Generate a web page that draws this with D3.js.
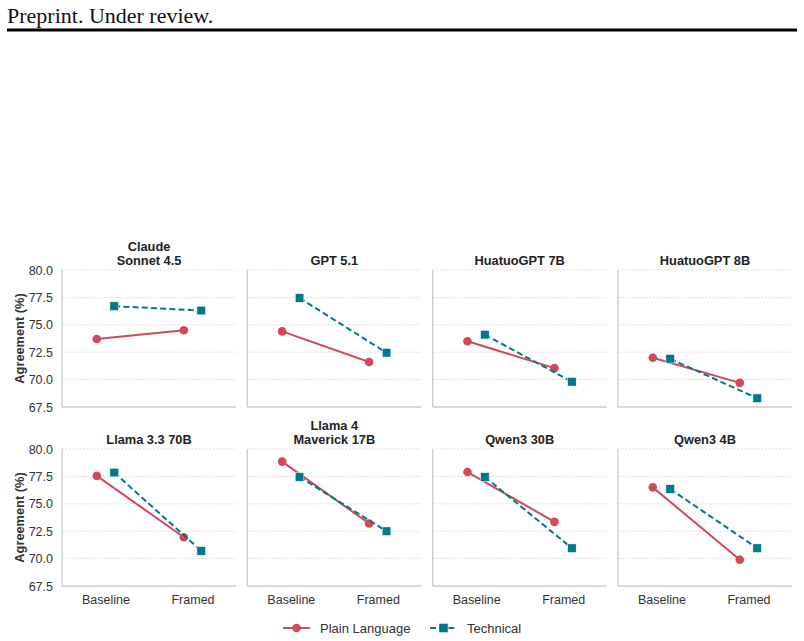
<!DOCTYPE html>
<html>
<head>
<meta charset="utf-8">
<script src="https://cdn.jsdelivr.net/npm/d3@7"></script>
<style>
  body { margin: 0; background: #fff; }
  svg { display: block; }
</style>
</head>
<body>
<div id="chart"></div>
<script>
// data
var models = [["Claude", "Sonnet 4.5"], ["GPT 5.1"], ["HuatuoGPT 7B"], ["HuatuoGPT 8B"],
              ["Llama 3.3 70B"], ["Llama 4", "Maverick 17B"], ["Qwen3 30B"], ["Qwen3 4B"]];
var conditions = ["Baseline", "Framed"];
var plainBaseline = [73.7, 74.4, 73.5, 72.0, 77.55, 78.85, 77.9, 76.5];
var plainFramed   = [74.5, 71.6, 71.05, 69.7, 71.95, 73.2, 73.35, 69.9];
var techBaseline  = [76.7, 77.45, 74.1, 71.9, 77.85, 77.45, 77.45, 76.35];
var techFramed    = [76.3, 72.45, 69.8, 68.3, 70.7, 72.5, 70.95, 70.95];
var yTicks = [67.5, 70.0, 72.5, 75.0, 77.5, 80.0];
var seriesNames = ["Plain Language", "Technical"];

var width = 804, height = 641;
var red = "#d1495b", teal = "#00798c";
var font = "'Liberation Sans', Arial, sans-serif";

var svg = d3.select("#chart").append("svg")
  .attr("width", width)
  .attr("height", height);

// page header
svg.append("text")
  .attr("x", 7)
  .attr("y", 23)
  .attr("font-family", "'Liberation Serif', 'DejaVu Serif', serif")
  .attr("font-size", "22px")
  .attr("fill", "#111")
  .text("Preprint. Under review.");
svg.append("line")
  .attr("x1", 7).attr("x2", 797)
  .attr("y1", 30).attr("y2", 30)
  .attr("stroke", "#000")
  .attr("stroke-width", 3);

var left = 62, right = 792, gap = 11.3;
var pw = (right - left - 3 * gap) / 4;   // panel width
var ph = 137;                           // panel height
var rowTops = [270, 449];

var x = d3.scaleLinear().domain([-0.5, 1.5]).range([0, pw]);
var y = d3.scaleLinear().domain([67.5, 80]).range([ph, 0]);
var dodge = 0.1;

var series = [
  { name: seriesNames[0], color: red, dash: null, shape: "circle", off: -dodge,
    vals: function(i) { return [plainBaseline[i], plainFramed[i]]; } },
  { name: seriesNames[1], color: teal, dash: "6,3.2", shape: "square", off: dodge,
    vals: function(i) { return [techBaseline[i], techFramed[i]]; } }
];

models.forEach(function(title, i) {
  var col = i % 4, row = Math.floor(i / 4);
  var g = svg.append("g")
    .attr("transform", "translate(" + (left + col * (pw + gap)) + "," + rowTops[row] + ")");

  // grid
  g.selectAll("line.grid")
    .data(yTicks.slice(1))
    .enter()
    .append("line")
    .attr("class", "grid")
    .attr("x1", 0).attr("x2", pw)
    .attr("y1", function(d) { return y(d); })
    .attr("y2", function(d) { return y(d); })
    .attr("stroke", "#d4d4d4")
    .attr("stroke-width", 0.8)
    .attr("stroke-dasharray", "2,1.5");

  // spines
  g.append("line")
    .attr("x1", 0).attr("x2", 0).attr("y1", 0).attr("y2", ph)
    .attr("stroke", "#cccccc").attr("stroke-width", 1.3);
  g.append("line")
    .attr("x1", 0).attr("x2", pw).attr("y1", ph).attr("y2", ph)
    .attr("stroke", "#cccccc").attr("stroke-width", 1.3);

  // y axis on first column
  if (col === 0) {
    var yAxis = d3.axisLeft(y).tickValues(yTicks).tickFormat(d3.format(".1f")).tickSize(0).tickPadding(9);
    var ya = g.append("g").call(yAxis);
    ya.select(".domain").remove();
    ya.selectAll("text")
      .attr("font-family", font)
      .attr("font-size", "12.5px")
      .attr("fill", "#333");
    g.append("text")
      .attr("transform", "translate(" + (-38.5) + "," + (ph / 2) + ") rotate(-90)")
      .attr("text-anchor", "middle")
      .attr("font-family", font)
      .attr("font-weight", "bold")
      .attr("font-size", "12.8px")
      .attr("fill", "#333")
      .text("Agreement (%)");
  }

  // x axis on bottom row
  if (row === 1) {
    var xAxis = d3.axisBottom(x).tickValues([0, 1])
      .tickFormat(function(d) { return conditions[d]; }).tickSize(0).tickPadding(9);
    var xa = g.append("g").attr("transform", "translate(0," + ph + ")").call(xAxis);
    xa.select(".domain").remove();
    xa.selectAll("text")
      .attr("font-family", font)
      .attr("font-size", "12.5px")
      .attr("fill", "#333");
  }

  // title
  var t = g.append("text")
    .attr("x", pw / 2)
    .attr("text-anchor", "middle")
    .attr("font-family", font)
    .attr("font-weight", "bold")
    .attr("font-size", "12.8px")
    .attr("fill", "#222");
  title.forEach(function(line, k) {
    t.append("tspan")
      .attr("x", pw / 2)
      .attr("y", -5 - (title.length - 1 - k) * 14.5)
      .text(line);
  });

  // series
  series.forEach(function(s) {
    var pts = s.vals(i).map(function(v, k) { return [x(k + s.off), y(v)]; });
    g.append("path")
      .attr("d", d3.line()(pts))
      .attr("fill", "none")
      .attr("stroke", s.color)
      .attr("stroke-width", 2)
      .attr("stroke-dasharray", s.dash);
    if (s.shape === "circle") {
      g.selectAll(null).data(pts).enter().append("circle")
        .attr("cx", function(d) { return d[0]; })
        .attr("cy", function(d) { return d[1]; })
        .attr("r", 4.3)
        .attr("fill", s.color);
    } else {
      g.selectAll(null).data(pts).enter().append("rect")
        .attr("x", function(d) { return d[0] - 4.3; })
        .attr("y", function(d) { return d[1] - 4.3; })
        .attr("width", 8.6).attr("height", 8.6)
        .attr("fill", s.color)
        .attr("stroke", "#fff").attr("stroke-width", 0.5);
    }
  });
});

// legend
var legendY = 628;
var legendX = [283, 430];
series.forEach(function(s, k) {
  var lg = svg.append("g").attr("transform", "translate(" + legendX[k] + "," + legendY + ")");
  lg.append("line")
    .attr("x1", 0).attr("x2", 27).attr("y1", 0).attr("y2", 0)
    .attr("stroke", s.color).attr("stroke-width", 2)
    .attr("stroke-dasharray", s.dash ? "6,3.2" : null);
  if (s.shape === "circle") {
    lg.append("circle").attr("cx", 13.5).attr("cy", 0).attr("r", 4.3).attr("fill", s.color);
  } else {
    lg.append("rect").attr("x", 13.5 - 4.3).attr("y", -4.3).attr("width", 8.6).attr("height", 8.6).attr("fill", s.color);
  }
  lg.append("text")
    .attr("x", 37)
    .attr("y", 4.6)
    .attr("font-family", font)
    .attr("font-size", "13px")
    .attr("fill", "#333")
    .text(s.name);
});
</script>
</body>
</html>
